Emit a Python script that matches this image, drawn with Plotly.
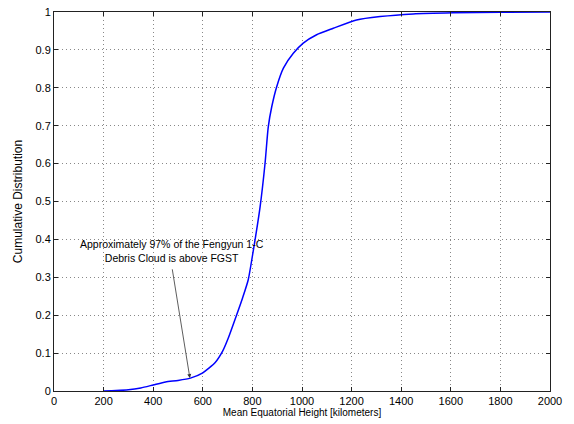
import plotly.graph_objects as go

height_km = [200, 250, 300, 350, 400, 450, 500, 550, 600, 650, 680, 700, 736, 760, 783,
             804, 831, 851, 864, 878, 898, 925, 965, 1005, 1059, 1126, 1220, 1315, 1448,
             1609, 1800, 2000]
cdf = [0.0, 0.001, 0.003, 0.008, 0.016, 0.024, 0.028, 0.034, 0.048, 0.075, 0.105, 0.135,
       0.2, 0.245, 0.293, 0.372, 0.486, 0.601, 0.697, 0.75, 0.803, 0.852, 0.891, 0.918,
       0.94, 0.957, 0.979, 0.988, 0.995, 0.998, 0.9995, 1.0]

x_ticks = [0, 200, 400, 600, 800, 1000, 1200, 1400, 1600, 1800, 2000]
y_ticks = [0, 0.1, 0.2, 0.3, 0.4, 0.5, 0.6, 0.7, 0.8, 0.9, 1]
y_ticklabels = ["0", "0.1", "0.2", "0.3", "0.4", "0.5", "0.6", "0.7", "0.8", "0.9", "1"]

annot_text = "Approximately 97% of the Fengyun 1-C<br>Debris Cloud is above FGST"
arrow_head = (548, 0.034)
arrow_tail = (476, 0.325)
text_pos = (474, 0.37)

fig = go.Figure()
fig.add_trace(go.Scatter(x=height_km, y=cdf, mode="lines", line_shape="spline",
                         line=dict(color="#0000ff", width=1.5, smoothing=0.6),
                         showlegend=False))

fig.add_annotation(x=arrow_head[0], y=arrow_head[1], ax=arrow_tail[0], ay=arrow_tail[1],
                   xref="x", yref="y", axref="x", ayref="y", text="",
                   showarrow=True, arrowhead=2, arrowsize=1, arrowwidth=0.8,
                   arrowcolor="#333333")
fig.add_annotation(x=text_pos[0], y=text_pos[1], xref="x", yref="y", text=annot_text,
                   showarrow=False, font=dict(family="Arial", size=10.5, color="black"),
                   align="center")

axis_common = dict(showline=True, linecolor="#222222", linewidth=1, mirror="ticks",
                   ticks="inside", ticklen=4, tickcolor="#222222", automargin=False,
                   showgrid=True, gridcolor="#888888", griddash="1px,3px", gridwidth=1,
                   zeroline=False, tickfont=dict(family="Arial", size=11, color="black"))

fig.update_xaxes(range=[0, 2000], tickvals=x_ticks,
                 title=dict(text="Mean Equatorial Height [kilometers]",
                            font=dict(family="Arial", size=10, color="black"), standoff=0),
                 **axis_common)
fig.update_yaxes(range=[0, 1], tickvals=y_ticks, ticktext=y_ticklabels,
                 title=dict(text="Cumulative Distribution",
                            font=dict(family="Arial", size=12, color="black"), standoff=10),
                 **axis_common)

fig.update_layout(width=574, height=424, margin=dict(l=54, r=24, t=12, b=33),
                  paper_bgcolor="white", plot_bgcolor="white")

fig.write_html("out.html")
